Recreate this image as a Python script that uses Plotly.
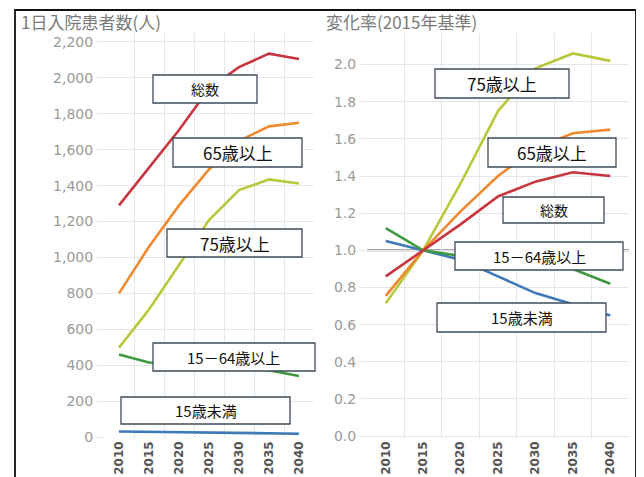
import plotly.graph_objects as go

# ---------------- data ----------------
years = ["2010", "2015", "2020", "2025", "2030", "2035", "2040"]

series_names = ["総数", "65歳以上", "75歳以上", "15－64歳以上", "15歳未満"]

# 1日入院患者数(人)
total_cnt = [1290, 1500, 1710, 1940, 2060, 2135, 2105]
age65_cnt = [800, 1060, 1290, 1490, 1650, 1730, 1750]
age75_cnt = [498, 710, 958, 1208, 1375, 1435, 1412]
age1564_cnt = [460, 415, 405, 398, 388, 372, 340]
under15_cnt = [31, 29, 28, 25, 23, 21, 19]

# 変化率(2015年基準)
total_rate = [0.86, 1.00, 1.14, 1.29, 1.37, 1.42, 1.40]
age65_rate = [0.755, 1.00, 1.21, 1.40, 1.55, 1.63, 1.65]
age75_rate = [0.715, 1.00, 1.36, 1.75, 1.98, 2.06, 2.02]
age1564_rate = [1.12, 1.00, 0.97, 0.95, 0.93, 0.90, 0.82]
under15_rate = [1.05, 1.00, 0.95, 0.86, 0.77, 0.71, 0.65]

left_ticks = [0, 200, 400, 600, 800, 1000, 1200, 1400, 1600, 1800, 2000, 2200]
right_ticks = [0.0, 0.2, 0.4, 0.6, 0.8, 1.0, 1.2, 1.4, 1.6, 1.8, 2.0]
reference_rate = 1.0

title_left = "1日入院患者数(人)"
title_right = "変化率(2015年基準)"

# ---------------- style ----------------
# the page body has an 8px default margin, so the figure is drawn
# 8px in from the top-left of the window
OFF = 8
W, H = 644 - 2 * OFF, 477 - OFF
colors = ["#c9353f", "#f08a30", "#b8c83a", "#3f9a3f", "#3f7ab8"]
JP = "Noto Sans CJK JP"
GRID = "#e6e6e6"


def px(x):
    return (x - OFF) / W


def py(y):
    return 1 - (y - OFF) / H


fig = go.Figure()

left_series = [total_cnt, age65_cnt, age75_cnt, age1564_cnt, under15_cnt]
right_series = [total_rate, age65_rate, age75_rate, age1564_rate, under15_rate]

order = [4, 3, 2, 1, 0]
for i in order:
    fig.add_trace(go.Scatter(x=years, y=left_series[i], mode="lines",
                             line=dict(color=colors[i], width=2.6),
                             name=series_names[i], xaxis="x", yaxis="y",
                             showlegend=False))
for i in order:
    fig.add_trace(go.Scatter(x=years, y=right_series[i], mode="lines",
                             line=dict(color=colors[i], width=2.6),
                             name=series_names[i], xaxis="x2", yaxis="y2",
                             showlegend=False))

xcommon = dict(type="category", tickson="boundaries", showgrid=True,
               range=[-0.5, len(years) - 0.5],
               gridcolor=GRID, gridwidth=1, tickangle=-90, ticks="",
               showline=False, zeroline=False,
               tickfont=dict(family="DejaVu Sans", size=12, color="#555555",
                             weight="bold"))

ytickfont = dict(family="DejaVu Sans", size=14, color="#9a9a9a")

fig.update_layout(
    width=W, height=H, autosize=False,
    margin=dict(l=0, r=0, t=0, b=0, autoexpand=False),
    paper_bgcolor="white", plot_bgcolor="white",
    showlegend=False,
    xaxis=dict(domain=[px(104), px(314)], anchor="y", **xcommon),
    xaxis2=dict(domain=[px(367), px(629)], anchor="y2", **xcommon),
    yaxis=dict(domain=[py(438), py(33)], anchor="x", range=[-5, 2250],
               tickvals=left_ticks, tickformat=",d",
               showgrid=True, gridcolor=GRID, zeroline=False,
               ticks="outside", ticklen=7, tickcolor=GRID,
               tickfont=ytickfont),
    yaxis2=dict(domain=[py(438), py(33)], anchor="x2", range=[-0.01, 2.17],
                tickvals=right_ticks, tickformat=".1f",
                showgrid=True, gridcolor=GRID, zeroline=False,
                ticks="outside", ticklen=7, tickcolor=GRID,
                tickfont=ytickfont),
)

shapes = []
# reference line at 1.0 on the rate panel
shapes.append(dict(type="line", xref="paper", yref="y2", x0=px(367), x1=px(629),
                   y0=reference_rate, y1=reference_rate,
                   line=dict(color="#8a8a8a", width=2), layer="below"))

# label boxes (window pixel rects: x0, y0, x1, y1, font size)
boxes = [
    ("総数", 153, 75, 257, 103, 14),
    ("65歳以上", 173, 138, 302, 167, 17),
    ("75歳以上", 167, 229, 302, 257, 17),
    ("15－64歳以上", 153, 343, 315, 371, 15),
    ("15歳未満", 121, 397, 290, 424, 15),
    ("75歳以上", 435, 69, 569, 98, 17),
    ("65歳以上", 488, 138, 616, 167, 17),
    ("総数", 503, 197, 604, 223, 14),
    ("15－64歳以上", 455, 242, 623, 270, 15),
    ("15歳未満", 437, 303, 606, 332, 15),
]
annotations = []
for label, x0, y0, x1, y1, fs in boxes:
    shapes.append(dict(type="rect", xref="paper", yref="paper",
                       x0=px(x0), x1=px(x1), y0=py(y1), y1=py(y0),
                       fillcolor="white", line=dict(color="#3e4c5c", width=1.3),
                       layer="above"))
    annotations.append(dict(text=label, xref="paper", yref="paper",
                            x=px((x0 + x1) / 2), y=py((y0 + y1) / 2),
                            xanchor="center", yanchor="middle", showarrow=False,
                            font=dict(family=JP, size=fs, color="#111111")))

# outer frame
shapes.append(dict(type="rect", xref="paper", yref="paper",
                   x0=px(15), x1=px(636), y0=py(480), y1=py(10),
                   line=dict(color="#111111", width=1.8),
                   layer="above"))

# panel titles
annotations.append(dict(text=title_left, xref="paper", yref="paper",
                        x=px(19), y=py(22), xanchor="left", yanchor="middle",
                        showarrow=False, font=dict(family=JP, size=17, color="#7a7a7a")))
annotations.append(dict(text=title_right, xref="paper", yref="paper",
                        x=px(324), y=py(22), xanchor="left", yanchor="middle",
                        showarrow=False, font=dict(family=JP, size=17, color="#7a7a7a")))

fig.update_layout(shapes=shapes, annotations=annotations)

fig.write_html("out.html")
